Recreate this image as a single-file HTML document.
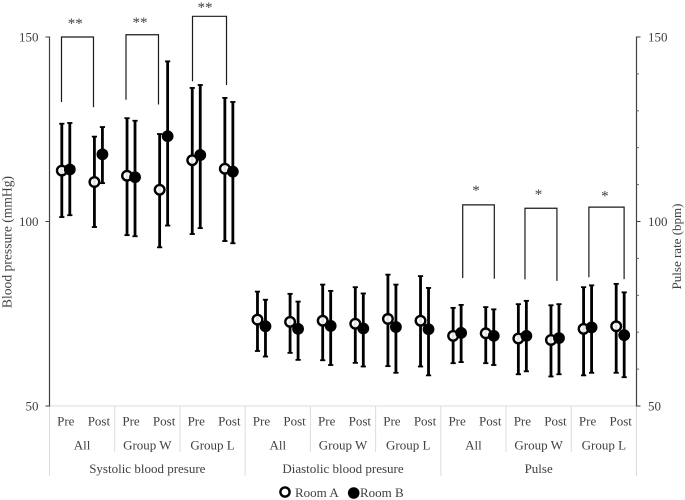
<!DOCTYPE html>
<html lang="en">
<head>
<meta charset="utf-8">
<title>Blood pressure and pulse rate chart</title>
<style>
html,body{margin:0;padding:0;background:#fff;width:685px;height:500px;overflow:hidden}
svg{display:block;filter:blur(0.35px)}
text{font-family:"Liberation Serif",serif;font-size:13px;fill:#404040}
</style>
</head>
<body>
<svg id="chart" xmlns="http://www.w3.org/2000/svg" width="685" height="500" viewBox="0 0 685 500"></svg>
<script>
const timepoints = ["Pre","Post","Pre","Post","Pre","Post","Pre","Post","Pre","Post","Pre","Post","Pre","Post","Pre","Post","Pre","Post"];
const groups = ["All","Group W","Group L","All","Group W","Group L","All","Group W","Group L"];
const measures = ["Systolic blood presure","Diastolic blood presure","Pulse"];
const yTicks = [50,100,150];
const rightMinorTicks = [60,70,80,90,110,120,130,140];
const roomAMean = [113.8,110.7,112.4,108.6,116.6,114.3,73.4,72.8,73.1,72.3,73.6,73.1,69,69.7,68.3,67.9,70.9,71.6];
const roomAUpper = [126.5,123,128,123.7,136.2,133.5,81,80.4,82.9,82.2,85.6,85.2,76.6,76.8,77.6,77.3,82.2,83.1];
const roomALower = [101.2,98.5,96.3,93,96.6,94.7,64.9,64.4,62.4,61.7,60.8,60.7,61.6,61.6,58.6,58,58.3,59];
const roomBMean = [114.1,118.2,112,123.1,118,113.5,71.6,70.9,71.7,71,71.4,70.8,69.8,69,69,68.4,71.3,69.2];
const roomBUpper = [126.7,125.6,127.3,143.4,137,132.4,78.8,78.3,81.2,80.5,82.9,82,77.4,76.2,78.5,77.6,82.7,80.8];
const roomBLower = [101.7,110.4,96,98.9,98.2,94.1,63.4,62.5,61.1,60.7,59,58.3,61.9,61.1,59.4,58.6,59,57.8];
const bracketLabels = ["**","**","**","*","*","*"];
const bracketLeftCategory = [-0.132,1.846,3.885,12.171,14.08,16.04];
const bracketRightCategory = [0.849,2.842,4.928,13.14,15.06,17.12];
const bracketTop = [150,150.6,155.6,104.5,103.6,103.9];
const bracketLeftEnd = [132.4,133,138,84.7,84.3,84.9];
const bracketRightEnd = [131,131.7,137,84.5,83.9,84.4];
const bracketLabelCategory = [0.291,2.275,4.267,12.58,14.495,16.53];
const bracketLabelValue = [154.6,154.9,158.9,109.3,108.3,107.9];

const svg = document.getElementById('chart');
const NS = 'http://www.w3.org/2000/svg';
const plotLeft = 49.5, plotRight = 636.5, plotBottom = 406, plotTop = 37;
const yMin = 50, yMax = 150;
const catWidth = (plotRight - plotLeft) / timepoints.length;
function yScale(v){ return plotBottom - (v - yMin) * (plotBottom - plotTop) / (yMax - yMin); }
function xCat(i){ return plotLeft + catWidth * (i + 0.5); }

function make(tag, attrs, name){
  const el = document.createElementNS(NS, tag);
  for (const k in attrs) el.setAttribute(k, attrs[k]);
  
  
  svg.appendChild(el);
  return el;
}
function line(x1,y1,x2,y2,stroke,w,name){
  return make('line',{x1:x1,y1:y1,x2:x2,y2:y2,stroke:stroke,'stroke-width':w},name);
}
function label(x,y,txt,anchor,name){
  const t = make('text',{x:x,y:y,'text-anchor':anchor},name);
  t.textContent = txt;
  return t;
}

/* category axis */
const sepColor = '#dcdcdc';
line(plotLeft,plotBottom,plotRight,plotBottom,sepColor,1,'category-axis-line');
timepoints.forEach(function(t,i){
  label(xCat(i)+(i%2?0.5:0),425.5,t,'middle','timepoint-label');
});
groups.forEach(function(g,i){
  label(plotLeft+catWidth*(2*i+1),449.5,g,'middle','group-label');
  if (i>0 && i%3!==0) line(plotLeft+catWidth*2*i,plotBottom,plotLeft+catWidth*2*i,452,sepColor,1,'group-separator');
});
measures.forEach(function(m,i){
  label(plotLeft+catWidth*(6*i+3),473,m,'middle','measure-label');
  line(plotLeft+catWidth*6*i,plotBottom,plotLeft+catWidth*6*i,476,sepColor,1,'measure-separator');
});
line(plotRight,plotBottom,plotRight,476,sepColor,1,'measure-separator');

/* value axes */
line(plotLeft,plotTop-0.5,plotLeft,plotBottom+0.5,'#404040',1.2,'left-axis-line');
line(plotRight,plotTop-0.5,plotRight,plotBottom+0.5,'#404040',1.2,'right-axis-line');
yTicks.forEach(function(v){
  const y = yScale(v);
  line(plotLeft-4,y,plotLeft,y,'#404040',1,'left-axis-tick');
  line(plotRight,y,plotRight+4,y,'#404040',1,'right-axis-tick');
  label(plotLeft-11,y+4.5,String(v),'end','left-axis-tick-label');
  label(plotRight+11.5,y+4.5,String(v),'start','right-axis-tick-label');
});
rightMinorTicks.forEach(function(v){
  line(plotRight,yScale(v),plotRight+2.5,yScale(v),'#666',1,'right-axis-minor-tick');
});

const leftTitle = label(0,0,'Blood pressure (mmHg)','middle','left-axis-title');
leftTitle.setAttribute('transform','translate(11.5,242) rotate(-90)');
leftTitle.setAttribute('style','font-size:13.6px');
const rightTitle = label(0,0,'Pulse rate (bpm)','middle','right-axis-title');
rightTitle.setAttribute('transform','translate(681,246.5) rotate(-90)');

/* error bars and markers */
function errorBar(x,up,lo,name){
  line(x,yScale(up),x,yScale(lo),'#000',2.8,name);
  line(x-2.6,yScale(up),x+2.6,yScale(up),'#000',1.8,name+'-cap');
  line(x-2.6,yScale(lo),x+2.6,yScale(lo),'#000',1.8,name+'-cap');
}
const offsetA = -4, offsetB = 4;
timepoints.forEach(function(t,i){
  errorBar(xCat(i)+offsetA,roomAUpper[i],roomALower[i],'room-a-error-bar');
  errorBar(xCat(i)+offsetB,roomBUpper[i],roomBLower[i],'room-b-error-bar');
});
timepoints.forEach(function(t,i){
  make('circle',{cx:xCat(i)+offsetA,cy:yScale(roomAMean[i]),r:4.8,fill:'#fff','fill-opacity':0.9,stroke:'#000','stroke-width':2.4},'room-a-marker');
  make('circle',{cx:xCat(i)+offsetB,cy:yScale(roomBMean[i]),r:5.9,fill:'#000'},'room-b-marker');
});

/* significance brackets */
bracketLabels.forEach(function(s,i){
  const xl = xCat(bracketLeftCategory[i]), xr = xCat(bracketRightCategory[i]);
  const d = 'M'+xl+' '+yScale(bracketLeftEnd[i])+'V'+yScale(bracketTop[i])+'H'+xr+'V'+yScale(bracketRightEnd[i]);
  make('path',{d:d,fill:'none',stroke:'#1a1a1a','stroke-width':1.2},'significance-bracket');
  const st = label(xCat(bracketLabelCategory[i]),yScale(bracketLabelValue[i])+8,s,'middle','significance-marker');
  st.setAttribute('style','font-size:15px');
});

/* legend */
make('circle',{cx:285,cy:492,r:4.6,fill:'#fff',stroke:'#000','stroke-width':2.4},'legend-room-a-marker');
label(295,497,'Room A','start','legend-room-a-label');
make('circle',{cx:353.7,cy:493,r:5.8,fill:'#000'},'legend-room-b-marker');
label(360,497,'Room B','start','legend-room-b-label');
</script>
</body>
</html>
